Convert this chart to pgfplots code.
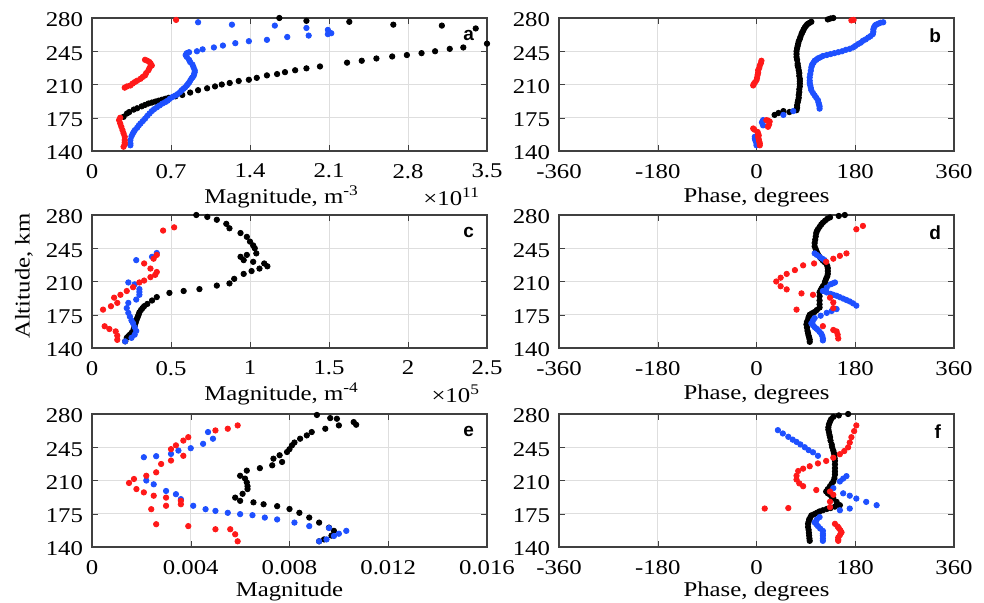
\documentclass[border=0pt]{standalone}
\usepackage{fontspec}
\setmainfont[FakeStretch=1.18]{Liberation Serif}
\newfontfamily\lettfont{Liberation Sans}
\usepackage{pgfplots}
\pgfplotsset{compat=1.18}
\definecolor{myblue}{RGB}{30,80,255}
\definecolor{myred}{RGB}{255,25,25}
\pgfplotsset{
 panel/.style={scale only axis, width=197.5pt, height=66.5pt, ymin=140, ymax=280,
   ytick={140,175,210,245,280}, grid=major, grid style={black!13, line width=0.5pt},
   axis line style={black!75, line width=0.6pt}, tick style={black!75},
   tick align=inside, major tick length=3pt, anchor=south west,
   every tick label/.append style={font=\fontsize{10.5}{12}\selectfont},
   xticklabel style={yshift=-3pt}, yticklabel style={xshift=-1pt, yshift=-1pt},
   /pgf/number format/assume math mode=true, clip mode=individual},
 phase/.style={xmin=-360, xmax=360, xtick={-360,-180,0,180,360},
   xticklabels={-360,-180,0,180,360}},
 dots/.style={only marks, mark=*, mark size=1.35pt},
}
\tikzset{
 lab/.style={font=\fontsize{10.5}{12}\selectfont},
 panlet/.style={font=\lettfont\bfseries\fontsize{9.5}{11}\selectfont, anchor=east},
}
\begin{document}
\begin{tikzpicture}
\useasboundingbox (0,0) rectangle (492pt,301pt);
% ---------------- a
\begin{axis}[panel, at={(46pt,225.5pt)}, xmin=0, xmax=3.5, xtick={0,0.7,1.4,2.1,2.8,3.5},
  xticklabels={0,0.7,1.4,2.1,2.8,3.5}]
\addplot[dots, color=black] coordinates {
(1.66,280) (1.90,277) (2.28,276) (2.67,273) (3.10,272) (3.40,269)
(3.50,253) (3.29,249) (3.17,247.5) (3.04,245) (2.92,243) (2.79,241) (2.66,239.5) (2.52,237.4) (2.39,235) (2.26,233) (2.02,229) (1.90,227) (1.80,225) (1.71,223) (1.64,221) (1.55,219.6) (1.46,217) (1.39,215) (1.30,213.7) (1.22,211.6) (1.15,210) (1.09,208) (1.02,206) (0.94,204) (0.87,201.5) (0.80,199) (0.74,197.6) (0.68,196) (0.65,195) (0.62,194) (0.59,193) (0.56,192) (0.53,191) (0.50,190) (0.47,188.5) (0.44,187) (0.40,185) (0.37,183.6) (0.33,181) (0.31,179.5) (0.28,176)};
\addplot[dots, color=myblue] coordinates {
(0.94,275.5) (1.24,273) (1.62,272) (1.90,269.5) (2.09,267.5) (2.12,264) (2.09,263) (1.92,261.5) (1.73,260) (1.55,257) (1.39,255.6) (1.27,253.5) (1.16,251) (1.08,249) (0.98,247) (0.93,245) (0.86,244) (0.84,243) (0.83,241) (0.84,239) (0.86,236) (0.87,233.6) (0.89,231) (0.90,228) (0.91,225) (0.91,223) (0.905,221) (0.90,219) (0.89,217.5) (0.88,216) (0.87,214) (0.86,212) (0.85,210.5) (0.84,209) (0.825,207) (0.81,205.5) (0.795,204) (0.78,202) (0.76,200) (0.74,198.5) (0.715,197) (0.69,195) (0.67,193) (0.65,191.5) (0.625,190) (0.60,188) (0.575,186) (0.55,184) (0.53,182) (0.51,179.5) (0.49,177) (0.47,174) (0.45,171.5) (0.43,169) (0.415,167) (0.40,164.5) (0.38,162) (0.37,160) (0.36,158) (0.35,155.5) (0.34,151.5) (0.34,148) (0.34,146)};
\addplot[dots, color=myred] coordinates {
(0.745,278)
(0.29,206.7) (0.31,208) (0.34,209) (0.36,211) (0.38,212.6) (0.40,214) (0.43,216) (0.45,218) (0.47,219.6) (0.48,222) (0.50,225) (0.51,227.5) (0.53,230) (0.52,232) (0.51,233.6) (0.49,235) (0.47,236)
(0.28,144.5) (0.29,147) (0.29,149) (0.29,151.5) (0.29,155) (0.28,158.5) (0.27,162) (0.26,165.5) (0.25,169) (0.24,172.5) (0.25,175)};
\node[panlet] at (rel axis cs:0.985,0.87) {a};
\node[lab] at (rel axis cs:0.48,0) [yshift=-23pt] {Magnitude, m\textsuperscript{-3}};
\node[lab, anchor=east] at (rel axis cs:1.0,0) [yshift=-23pt] {×10\textsuperscript{11}};
\end{axis}
% ---------------- b
\begin{axis}[panel, phase, at={(279.5pt,225.5pt)}]
\addplot[dots, color=black] coordinates {
(140,280) (135,279.5) (130,278.5) (100,276) (97,275) (94,274) (92,273) (90,271.5) (88,270) (86,268) (85,266.5) (83,264.5) (82,263) (80,260) (79,258) (77,255.5) (76,253) (75,250.5) (74,248) (73,245) (73,242) (73,239) (74,236) (75,232) (75,230) (76,228) (77,225) (78,222) (78,219) (79,216) (79,213.5) (79,211) (79,208) (78,205) (78,202) (77,199) (77,196) (76,193.5) (75,191) (74,188) (74,185.5) (73,183) (60,181) (49,182) (40,180) (33,178)};
\addplot[dots, color=myblue] coordinates {
(231,275.5) (226,275) (222,274) (218,273) (216,272) (214,270) (213,268) (213,265.5) (212,263) (208,261) (204,259.5) (199,257.5) (194,256) (190,254) (185,252.5) (180,250.5) (176,249) (170,247.5) (163,246.5) (156,245) (149,244) (142,243) (135,242) (128,241) (121,240) (116,238.5) (112,237.5) (109,236) (106,235) (104,233) (102,231.5) (101,230) (100,228) (99,224.5) (98,221) (97,217.5) (97,214) (97,211.5) (98,209) (99,206.5) (100,204) (103,201) (106,198.5) (109,196) (112,193.5) (113,191) (114,189) (115,187) (115,184.6) (67,182) (49,178) (12,172.5) (11,171) (10,170) (12,167) (-3,155) (-3,153) (-2,151) (0,148) (0,146)};
\addplot[dots, color=myred] coordinates {
(173,277.5) (177,278) (9,235) (8,232.5) (6,230) (5,227.5) (3,225) (3,222.5) (2,220) (1,217) (0,214.6) (-3,212) (-5,210.5) (-6,209) (18,172.5) (21,172) (24,171) (23,168) (21,165.5) (-6,163.7) (-4,162.5) (2,160) (3,158) (4,156.5) (3,155) (4,152.5) (5,150) (6,148) (6,146)};
\node[panlet] at (rel axis cs:0.985,0.87) {b};
\node[lab] at (rel axis cs:0.5,0) [yshift=-23pt] {Phase, degrees};
\end{axis}
% ---------------- c
\begin{axis}[panel, at={(46pt,127pt)}, xmin=0, xmax=2.5, xtick={0,0.5,1,1.5,2,2.5},
  xticklabels={0,0.5,1,1.5,2,2.5}]
\addplot[dots, color=black] coordinates {
(0.66,280) (0.73,278) (0.79,275) (0.85,270.7) (0.87,266) (0.94,261) (0.98,257) (1.00,252) (1.02,248) (1.03,245) (1.04,239.6) (0.98,238) (0.94,236) (0.96,232.5) (1.02,230.7) (1.09,229) (1.11,226) (1.06,223.6) (1.01,221) (0.96,218) (0.90,212.8) (0.87,208) (0.79,205.7) (0.68,202) (0.58,200) (0.49,198) (0.41,193.6) (0.38,190) (0.35,186.4) (0.33,184) (0.32,182) (0.31,180) (0.30,177.5) (0.295,175) (0.29,173) (0.285,171) (0.28,168.6) (0.275,166) (0.27,163) (0.265,160.5) (0.26,158) (0.25,156) (0.24,154) (0.23,152.5) (0.22,150.7) (0.21,147)};
\addplot[dots, color=myblue] coordinates {
(0.41,240) (0.38,236) (0.28,232.5) (0.23,209) (0.27,207) (0.30,202) (0.30,199) (0.30,196) (0.28,191) (0.23,187.5) (0.22,182) (0.23,177) (0.24,173) (0.25,169) (0.26,166) (0.27,162) (0.28,158) (0.27,154) (0.25,150.7) (0.21,147)};
\addplot[dots, color=myred] coordinates {
(0.45,263.6) (0.52,267) (0.41,238) (0.39,234) (0.33,229) (0.37,223.6) (0.41,220) (0.40,217) (0.37,214.6) (0.33,211) (0.30,209) (0.26,204) (0.22,200) (0.18,196) (0.14,193) (0.16,187.5) (0.12,184) (0.07,180.4) (0.08,162.9) (0.11,160) (0.15,157.5) (0.16,153) (0.16,148.6)};
\node[panlet] at (rel axis cs:0.985,0.87) {c};
\node[lab] at (rel axis cs:0.48,0) [yshift=-23pt] {Magnitude, m\textsuperscript{-4}};
\node[lab, anchor=east] at (rel axis cs:1.0,0) [yshift=-23pt] {×10\textsuperscript{5}};
\node[lab, xshift=-34pt, rotate=90] at (rel axis cs:0,0.54) {Altitude, km};
\end{axis}
% ---------------- d
\begin{axis}[panel, phase, at={(279.5pt,127pt)}]
\addplot[dots, color=black] coordinates {
(161,280) (150,279) (134,277.5) (129,276) (125,274) (121,272) (118,270) (115,267.5) (112,265) (110,263) (109,261) (108,257.5) (107,254) (106,250.5) (106,247) (108,244) (110,241) (112,238.5) (115,236) (118,234) (121,232) (124,230.5) (127,229) (129,226.5) (130,224) (130,221) (130,218) (129,215.5) (127,213) (125,210) (124,207.6) (121,205) (119,203) (117,201) (115,198.7) (115,194.5) (115,190) (115,186) (115,182.6) (110,180) (106,178) (101,176.5) (97,175) (95,172.5) (94,170) (92,167.5) (91,164.8) (92,161.5) (93,158) (94,155.5) (95,153) (96,151) (97,148.8) (97,146.5)};
\addplot[dots, color=myblue] coordinates {
(106,239.6) (110,238) (115,236) (120,234) (124,232.5) (143,209) (139,208) (135,207) (128,203.5) (121,200) (128,198.5) (135,197) (140,196) (146,195) (152,193.5) (158,192) (164,190.5) (170,189) (176,187) (182,184.6) (146,181) (137,179) (128,177) (117,174) (106,171.5) (103,169) (100,166) (103,164) (106,162) (109,160.5) (112,159) (115,157) (118,155) (120,152.5) (121,150) (121,148)};
\addplot[dots, color=myred] coordinates {
(194,268.5) (182,265) (164,239.6) (152,237) (140,234) (127,230.7) (105,229) (85,227) (70,222) (55,218) (44,214) (36,210) (44,205) (55,201.7) (82,197.5) (103,196) (134,193) (140,188) (140,182) (73,180.4) (121,163) (140,159) (146,157.5) (148,154) (149,150)};
\node[panlet] at (rel axis cs:0.985,0.87) {d};
\node[lab] at (rel axis cs:0.5,0) [yshift=-23pt] {Phase, degrees};
\end{axis}
% ---------------- e
\begin{axis}[panel, at={(46pt,27.5pt)}, xmin=0, xmax=0.016, xtick={0,0.004,0.008,0.012,0.016},
  xticklabels={0,0.004,0.008,0.012,0.016}, scaled x ticks=false]
\addplot[dots, color=black] coordinates {
(0.00911,279) (0.00965,275.7) (0.00992,275) (0.0106,271.5) (0.0107,268.7) (0.0100,268) (0.00945,264.5) (0.0089,261) (0.0087,257.5) (0.00843,254) (0.0082,250) (0.0081,247) (0.0080,243) (0.0079,240) (0.0076,236.6) (0.00735,233) (0.0077,229.5) (0.0073,226) (0.0068,223) (0.00627,220.4) (0.0060,215) (0.0062,212) (0.00627,208) (0.0063,204) (0.0063,201) (0.0061,196) (0.0058,192) (0.0060,188.6) (0.00654,187) (0.00695,185) (0.0075,183) (0.0080,180) (0.0084,176) (0.0088,171) (0.0092,165.7) (0.0096,160.4) (0.0098,157) (0.0097,152) (0.0094,148) (0.0092,146)};
\addplot[dots, color=myblue] coordinates {
(0.0047,261) (0.0049,254) (0.0045,248.6) (0.0040,244) (0.0035,241.5) (0.0032,238) (0.0026,235.6) (0.0021,234.5) (0.0022,210) (0.0025,206) (0.0030,199) (0.0034,195.6) (0.0036,190.4) (0.0041,183.4) (0.0046,179.8) (0.0050,178) (0.0055,176) (0.0060,174.6) (0.0065,173.5) (0.0070,171) (0.0075,169) (0.0082,165.7) (0.0088,162) (0.0096,160) (0.0103,157) (0.0100,154) (0.0098,151.6) (0.0095,148) (0.0092,146)};
\addplot[dots, color=myred] coordinates {
(0.0059,268) (0.0055,264.5) (0.0050,262.7) (0.0039,255.6) (0.0037,252) (0.0034,247) (0.0032,243) (0.0037,236) (0.0032,231) (0.0028,227.4) (0.0026,218.6) (0.0022,215) (0.0017,211.6) (0.0015,207.4) (0.0018,201) (0.0021,197.5) (0.0025,194) (0.0030,192) (0.0036,188.6) (0.0036,185) (0.0030,183.4) (0.0024,179.8) (0.0026,164) (0.0039,162) (0.0050,158.7) (0.0056,158.7) (0.0058,153.4) (0.0059,146)};
\node[panlet] at (rel axis cs:0.985,0.87) {e};
\node[lab] at (rel axis cs:0.5,0) [yshift=-22pt] {Magnitude};
\end{axis}
% ---------------- f
\begin{axis}[panel, phase, at={(279.5pt,27.5pt)}]
\addplot[dots, color=black] coordinates {
(167,280) (150,278.5) (140,277) (136,274.5) (134,272) (132,269) (131,266) (131,263.5) (132,261) (133,258) (134,255.6) (135,252) (137,248) (138,245) (140,241.5) (141,239) (142,236) (142.5,233.5) (143,230.7) (143,227) (143,223) (143,219.5) (143,216.3) (142,212.5) (140,209) (137,206.5) (134,204) (130,201) (127,198.4) (130,196.5) (134,195) (137,193) (140,191.3) (146,187.5) (152,184) (143,182.5) (135,181) (128,180) (121,178.7) (115,177.5) (110,176) (105,174.5) (100,173.3) (98,171) (96,169) (95,166.5) (94,164.4) (94,161) (95,158) (95.5,155) (96,152) (96.5,149) (97,146.5)};
\addplot[dots, color=myblue] coordinates {
(39,263) (48,259.5) (58,256) (66,253) (73,250.6) (80,248) (88,245) (95,242) (103,239.7) (112,236) (164,214.6) (158,212) (152,209) (140,202) (158,196.5) (170,194) (182,191) (200,187.5) (219,184) (170,180.5) (152,178.7) (115,171.5) (110,169) (106,166) (109,164) (112,162) (116,159.5) (121,157) (121,154) (121,152) (121,149) (121,146.5)};
\addplot[dots, color=myred] coordinates {
(182,268) (178,262) (173,255.6) (170,250) (167,244.9) (160,241) (152,237.7) (140,234) (127,230.6) (112,228) (97,225) (85,222.5) (76,220) (73,215) (73,211) (78,207) (85,204) (109,200) (134,198.4) (140,195) (134,187.7) (134,182) (58,181) (15,180.5) (143,164.4) (148,161.5) (150,160) (153,157.5) (155,155.4) (152,152.5) (149,150) (149,148) (149,146.5)};
\node[panlet] at (rel axis cs:0.985,0.87) {f};
\node[lab] at (rel axis cs:0.5,0) [yshift=-22pt] {Phase, degrees};
\end{axis}
\end{tikzpicture}
\end{document}
